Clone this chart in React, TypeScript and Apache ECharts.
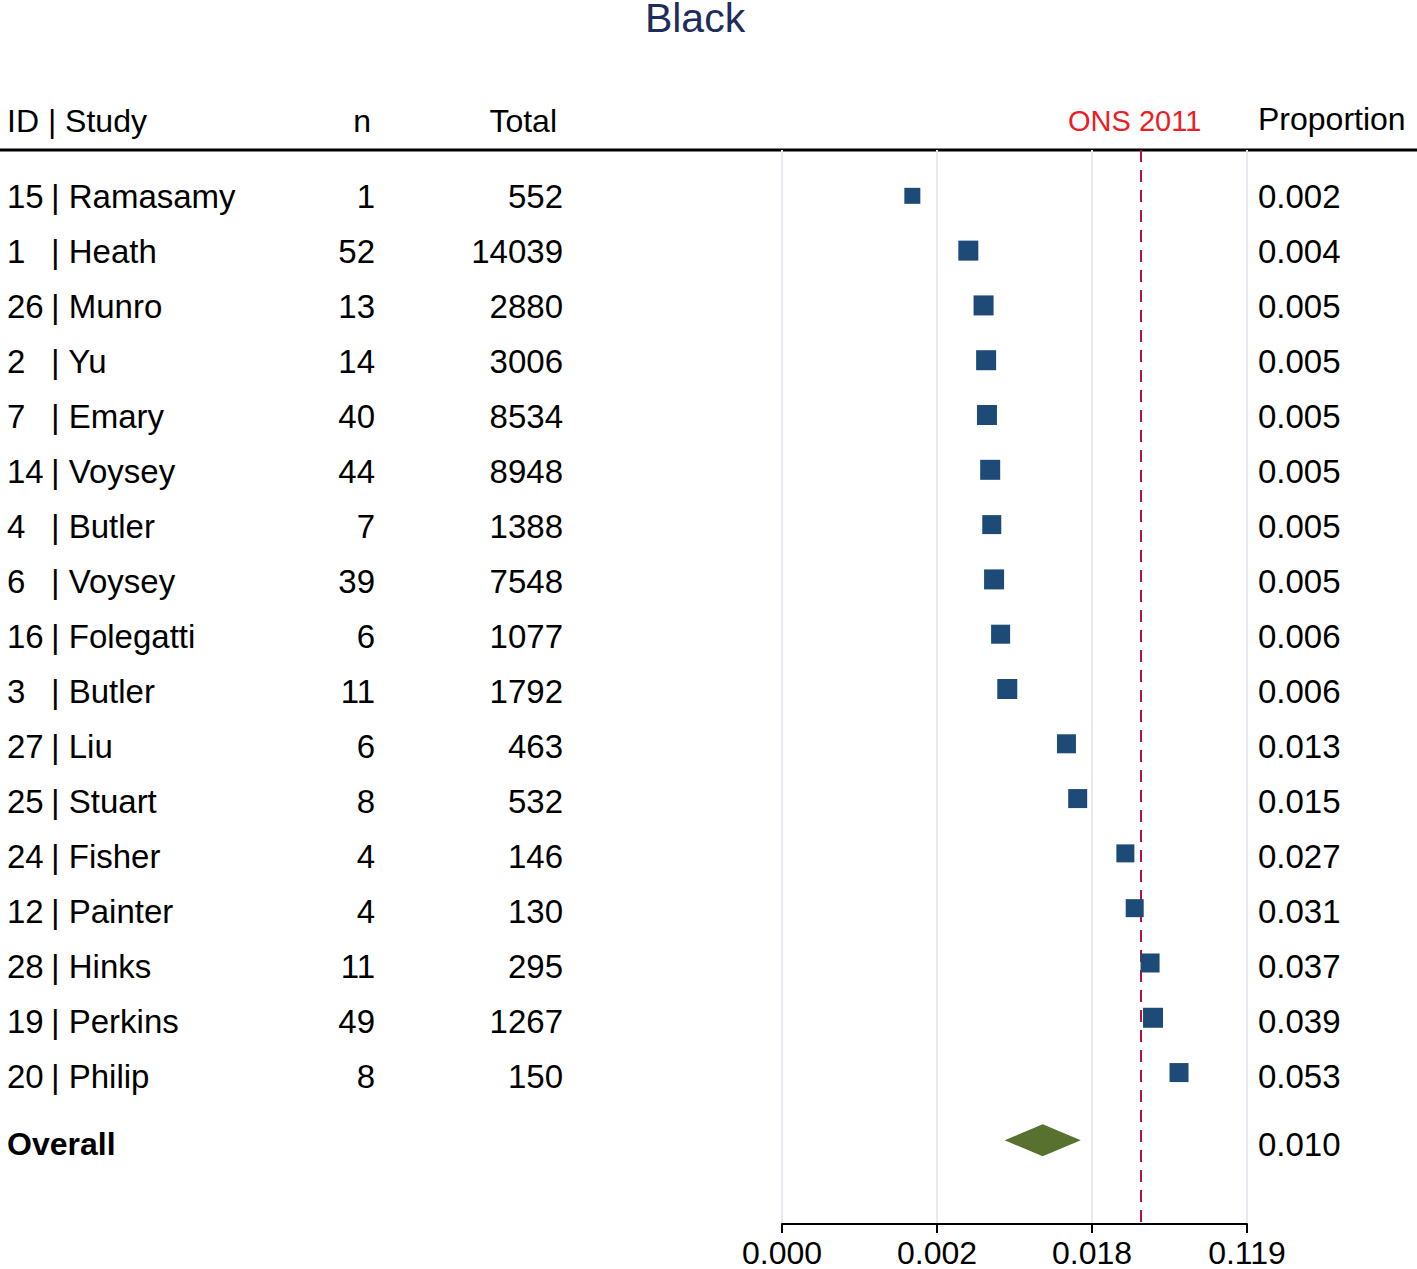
import React, { useEffect, useRef } from "react";
import * as echarts from "echarts";

// ---------- data ----------
const titleText = "Black";
const studyIds = ["15", "1", "26", "2", "7", "14", "4", "6", "16", "3", "27", "25", "24", "12", "28", "19", "20"];
const studyNames = ["Ramasamy", "Heath", "Munro", "Yu", "Emary", "Voysey", "Butler", "Voysey", "Folegatti", "Butler", "Liu", "Stuart", "Fisher", "Painter", "Hinks", "Perkins", "Philip"];
const nValues = [1, 52, 13, 14, 40, 44, 7, 39, 6, 11, 6, 8, 4, 4, 11, 49, 8];
const totalValues = [552, 14039, 2880, 3006, 8534, 8948, 1388, 7548, 1077, 1792, 463, 532, 146, 130, 295, 1267, 150];
const proportionLabels = ["0.002", "0.004", "0.005", "0.005", "0.005", "0.005", "0.005", "0.005", "0.006", "0.006", "0.013", "0.015", "0.027", "0.031", "0.037", "0.039", "0.053"];
// point estimates read from the square positions (proportion scale)
const proportions = [0.0018, 0.0037, 0.0045, 0.00465, 0.0047, 0.0049, 0.0050, 0.00515, 0.0056, 0.0061, 0.0130, 0.0150, 0.0274, 0.0308, 0.0373, 0.0387, 0.0533];
// relative marker sizes (study weights)
const markerSizes = [16, 20, 20, 20, 20, 20, 19, 20, 19, 20, 19, 19, 18, 18, 19, 20, 19];
const overallLabel = "Overall";
const overallEstimate = 0.0096;
const overallLower = 0.0059;
const overallUpper = 0.0156;
const overallText = "0.010";
const referenceValue = 0.0333;
const referenceLabel = "ONS 2011";
const xTickValues = [-8, -6, -4, -2]; // logit scale ticks

// ---------- layout ----------
const W = 1417;
const H = 1269;
const gridLeft = 782;
const gridRight = 1247;
const gridTop = 150;
const gridBottom = 1228;
const rowStart = 196;
const rowH = 55;
const overallRow = (1144 - rowStart) / rowH;
const rowY = (i: number) => rowStart + rowH * i;

const FONT = "'Liberation Sans', Arial, Helvetica, sans-serif";
const logit = (p: number) => Math.log(p / (1 - p));
const invLogit = (v: number) => 1 / (1 + Math.exp(-v));

export default function App() {
  const ref = useRef<HTMLDivElement>(null);
  useEffect(() => {
    document.body.style.margin = "0";
    if (!ref.current) return;
    const chart = echarts.init(ref.current, null, { renderer: "svg" });

    const txt = (text: string, x: number, y: number, opts: any = {}) => ({
      type: "text",
      x,
      y,
      silent: true,
      style: {
        text,
        fill: opts.fill || "#000",
        font: `${opts.bold ? "bold " : ""}${opts.size || 32}px ${FONT}`,
        align: opts.align || "left",
        verticalAlign: "middle",
      },
    });

    const graphics: any[] = [];
    graphics.push(txt(titleText, 695, 18, { size: 41, align: "center", fill: "#1E2D5C" }));
    graphics.push(txt("ID | Study", 7, 121));
    graphics.push(txt("n", 371, 121, { align: "right" }));
    graphics.push(txt("Total", 557, 121, { align: "right" }));
    graphics.push(txt(referenceLabel, 1068, 121, { fill: "#EE1C25", size: 29 }));
    graphics.push(txt("Proportion", 1258, 119));
    graphics.push({
      type: "line",
      silent: true,
      shape: { x1: 0, y1: 150, x2: W, y2: 150 },
      style: { stroke: "#000", lineWidth: 3 },
    });
    studyIds.forEach((id, i) => {
      const y = rowY(i);
      graphics.push(txt(id, 7, y, { size: 33 }));
      graphics.push(txt("| " + studyNames[i], 51, y, { size: 33 }));
      graphics.push(txt(String(nValues[i]), 375, y, { align: "right", size: 33 }));
      graphics.push(txt(String(totalValues[i]), 563, y, { align: "right", size: 33 }));
      graphics.push(txt(proportionLabels[i], 1258, y, { size: 33 }));
    });
    graphics.push(txt(overallLabel, 7, rowY(overallRow), { bold: true }));
    graphics.push(txt(overallText, 1258, rowY(overallRow), { size: 33 }));

    const yMin = (gridTop - rowStart) / rowH;
    const yMax = (gridBottom - rowStart) / rowH;

    chart.setOption({
      animation: false,
      backgroundColor: "#fff",
      grid: { left: gridLeft, right: W - gridRight, top: gridTop, bottom: H - gridBottom, containLabel: false },
      xAxis: {
        type: "value",
        min: xTickValues[0],
        max: xTickValues[xTickValues.length - 1],
        interval: 2,
        axisLine: { show: true, onZero: false, lineStyle: { color: "#000", width: 2 } },
        axisTick: { show: true, length: 9, lineStyle: { color: "#000", width: 2 } },
        axisLabel: {
          margin: 13,
          color: "#000",
          fontSize: 32,
          fontFamily: FONT,
          formatter: (v: number) => invLogit(v).toFixed(3),
        },
        splitLine: { show: true, lineStyle: { color: "#E5EBEE", width: 2 } },
      },
      yAxis: {
        type: "value",
        inverse: true,
        min: yMin,
        max: yMax,
        show: false,
        splitLine: { show: false },
      },
      series: [
        {
          type: "scatter",
          symbol: "rect",
          symbolSize: (_v: any, p: any) => markerSizes[p.dataIndex],
          itemStyle: { color: "#1D4A77", opacity: 1 },
          data: proportions.map((p, i) => [logit(p), i]),
          z: 5,
          markLine: {
            silent: true,
            symbol: ["none", "none"],
            label: { show: false },
            lineStyle: { color: "#B3123F", width: 2, type: [12, 8] },
            data: [{ xAxis: logit(referenceValue) }],
          },
        },
        {
          type: "custom",
          z: 4,
          renderItem: (_params: any, api: any) => {
            const lo = api.coord([api.value(0), api.value(3)]);
            const est = api.coord([api.value(1), api.value(3)]);
            const hi = api.coord([api.value(2), api.value(3)]);
            const half = 16;
            return {
              type: "polygon",
              shape: {
                points: [
                  [lo[0], lo[1]],
                  [est[0], est[1] - half],
                  [hi[0], hi[1]],
                  [est[0], est[1] + half],
                ],
              },
              style: { fill: "#58712F" },
            };
          },
          data: [[logit(overallLower), logit(overallEstimate), logit(overallUpper), overallRow]],
        },
      ],
      graphic: graphics,
    });
    return () => chart.dispose();
  }, []);
  return <div ref={ref} style={{ width: W, height: H }} />;
}
